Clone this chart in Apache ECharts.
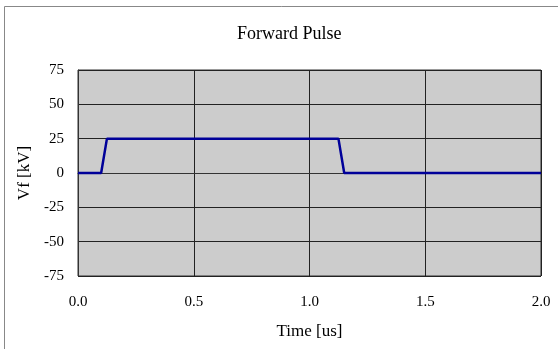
<!DOCTYPE html>
<html><head><meta charset="utf-8">
<script src="https://cdn.jsdelivr.net/npm/echarts@6/dist/echarts.min.js"></script>
<style>html,body{margin:0;padding:0;background:#fff}#c{width:558px;height:349px}</style>
</head><body><div id="c"></div>
<script>
const timeUs = [0, 0.1, 0.125, 1.125, 1.15, 2.0];
const vfKV = [0, 0, 25, 25, 0, 0];
const chart = echarts.init(document.getElementById('c'));
const font = '"Liberation Serif", "Times New Roman", serif';
chart.setOption({
  animation: false,
  graphic: [{type:'rect', shape:{x:4.5, y:6.5, width:600, height:400}, style:{fill:null, stroke:'#888', lineWidth:1}, z:-1}],
  title: {text:'Forward Pulse', left:232, top:20, textStyle:{fontFamily:font, fontSize:18, fontWeight:'normal', color:'#000'}},
  grid: {left:78, right:17, top:70, bottom:73, show:true, backgroundColor:'#cccccc', borderColor:'#333', borderWidth:1},
  xAxis: {type:'value', min:0, max:2, interval:0.5, name:'Time [us]', nameLocation:'middle', nameGap:47,
    nameTextStyle:{fontFamily:font, fontSize:17, color:'#000'},
    axisLine:{show:true, lineStyle:{color:'#333'}}, axisTick:{show:false},
    axisLabel:{fontFamily:font, fontSize:15, color:'#000', margin:19, formatter:v=>v.toFixed(1)},
    splitLine:{show:true, lineStyle:{color:'#222', width:1}}},
  yAxis: {type:'value', min:-75, max:75, interval:25, name:'Vf [kV]', nameLocation:'middle', nameGap:45,
    nameTextStyle:{fontFamily:font, fontSize:17, color:'#000'},
    axisLine:{show:true, lineStyle:{color:'#333'}}, axisTick:{show:false},
    axisLabel:{fontFamily:font, fontSize:15, color:'#000', margin:14},
    splitLine:{show:true, lineStyle:{color:'#222', width:1}}},
  series: [{type:'line', data: timeUs.map((t,i)=>[t, vfKV[i]]), showSymbol:false, lineStyle:{color:'#000099', width:2.5}}]
});
</script></body></html>
